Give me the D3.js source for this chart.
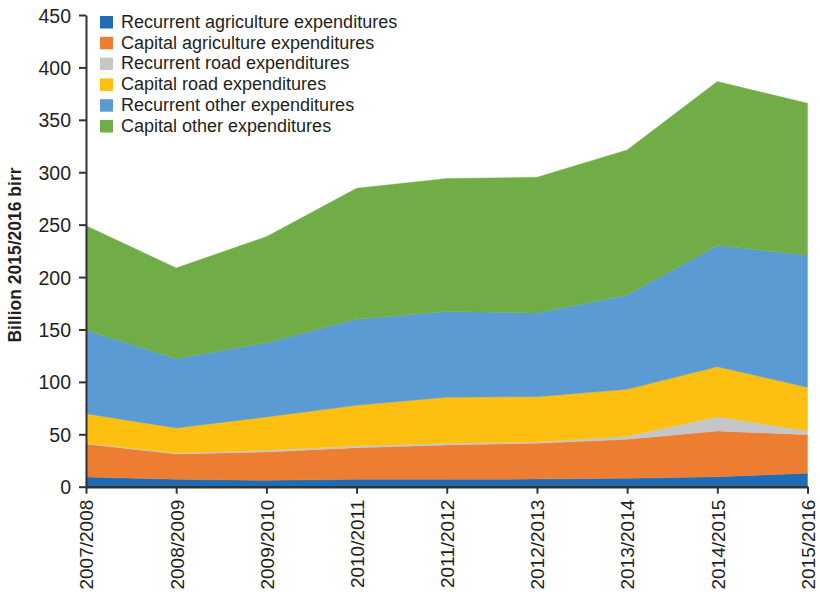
<!DOCTYPE html>
<html>
<head>
<meta charset="utf-8">
<script src="https://cdn.jsdelivr.net/npm/d3@7"></script>
<style>
  html, body { margin: 0; padding: 0; background: #fff; }
  svg { display: block; }
  text { font-family: "Liberation Sans", Arial, sans-serif; fill: #231f20; }
</style>
</head>
<body>
<svg id="chart" width="820" height="594"></svg>
<script>
// Fiscal years on the x axis
const years = ["2007/2008", "2008/2009", "2009/2010", "2010/2011", "2011/2012",
               "2012/2013", "2013/2014", "2014/2015", "2015/2016"];

// Expenditure series, billion 2015/2016 birr
const recurrentAgriculture = [9.3, 7.0, 6.1, 7.0, 7.0, 7.3, 8.0, 9.5, 12.8];
const capitalAgriculture   = [31.4, 24.2, 27.0, 30.2, 32.8, 34.1, 37.2, 43.6, 36.8];
const recurrentRoad        = [0.8, 1.0, 1.6, 1.6, 1.7, 1.2, 2.9, 13.7, 3.8];
const capitalRoad          = [28.2, 23.8, 31.8, 38.9, 43.8, 43.3, 44.8, 47.7, 41.4];
const recurrentOther       = [79.8, 66.1, 70.9, 82.0, 81.9, 79.8, 90.0, 115.5, 126.0];
const capitalOther         = [99.5, 86.6, 101.1, 125.0, 126.8, 129.5, 138.4, 156.5, 145.0];

const seriesNames = [
  "Recurrent agriculture expenditures",
  "Capital agriculture expenditures",
  "Recurrent road expenditures",
  "Capital road expenditures",
  "Recurrent other expenditures",
  "Capital other expenditures"
];
const seriesValues = [recurrentAgriculture, capitalAgriculture, recurrentRoad,
                      capitalRoad, recurrentOther, capitalOther];
const seriesColors = ["#1f6db5", "#ed7d31", "#c5c6c8", "#fdc010", "#5b9bd3", "#70ad47"];

const yTicks = [0, 50, 100, 150, 200, 250, 300, 350, 400, 450];

// Build row records for d3.stack
const keys = seriesNames;
const rows = years.map((yr, i) => {
  const r = { year: yr };
  keys.forEach((k, j) => { r[k] = seriesValues[j][i]; });
  return r;
});

const svg = d3.select("#chart");
const plotLeft = 86, plotRight = 807.5, plotTop = 15, plotBottom = 486.7;

const x = d3.scalePoint().domain(years).range([plotLeft, plotRight]);
const y = d3.scaleLinear().domain([0, 450]).range([plotBottom, plotTop]);

const stacked = d3.stack().keys(keys)(rows);

const area = d3.area()
  .x(d => x(d.data.year))
  .y0(d => y(d[0]))
  .y1(d => y(d[1]));

svg.append("g")
  .selectAll("path")
  .data(stacked)
  .join("path")
  .attr("d", area)
  .attr("fill", (d, i) => seriesColors[i])
  .attr("stroke", (d, i) => seriesColors[i])
  .attr("stroke-width", 0.4);

// Y axis
const yAxis = svg.append("g")
  .attr("transform", `translate(${plotLeft},0)`)
  .call(d3.axisLeft(y).tickValues(yTicks).tickSize(7).tickPadding(8).tickSizeOuter(0));
yAxis.select(".domain").attr("stroke", "#333").attr("stroke-width", 2);
yAxis.selectAll(".tick line").attr("stroke", "#333").attr("stroke-width", 2);
yAxis.selectAll(".tick text")
  .attr("font-size", 19.5)
  .attr("dy", "0.36em");

// X axis
const xAxis = svg.append("g")
  .attr("transform", `translate(0,${plotBottom})`)
  .call(d3.axisBottom(x).tickSize(7).tickSizeOuter(0));
xAxis.select(".domain").attr("stroke", "#333").attr("stroke-width", 2.5);
xAxis.selectAll(".tick line").attr("stroke", "#333").attr("stroke-width", 2);
xAxis.selectAll(".tick text")
  .attr("font-size", 19)
  .attr("transform", "rotate(-90)")
  .attr("text-anchor", "end")
  .attr("x", -13)
  .attr("y", 0)
  .attr("dy", "0.36em");

// Y axis title
svg.append("text")
  .attr("transform", "translate(21,255) rotate(-90)")
  .attr("text-anchor", "middle")
  .attr("font-size", 17.5)
  .attr("font-weight", "bold")
  .text("Billion 2015/2016 birr");

// Legend
const legend = svg.append("g").attr("transform", "translate(100,16)");
const item = legend.selectAll("g")
  .data(seriesNames)
  .join("g")
  .attr("transform", (d, i) => `translate(0,${i * 20.8})`);
item.append("rect")
  .attr("width", 13).attr("height", 12.5)
  .attr("fill", (d, i) => seriesColors[i]);
item.append("text")
  .attr("x", 21).attr("y", 11.8)
  .attr("font-size", 18)
  .text(d => d);
</script>
</body>
</html>
